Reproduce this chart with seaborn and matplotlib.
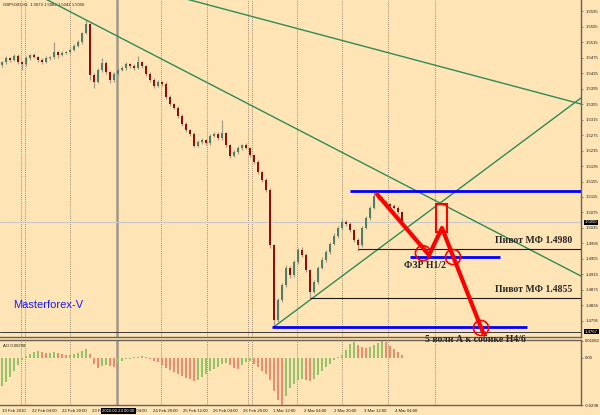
import numpy as np
import pandas as pd
import matplotlib
matplotlib.use("Agg")
import matplotlib.pyplot as plt
import matplotlib.transforms as mtransforms
from matplotlib.patches import Rectangle
import seaborn as sns

# GBPUSD H1, one candle per ~2 hourly bars (bar index, price)
first_open = 1.5455
closes = [1.5463, 1.5474, 1.5469, 1.5479, 1.5463, 1.5458, 1.5474, 1.5481, 1.5476, 1.5469,
          1.5463, 1.5474, 1.5476, 1.5489, 1.5481, 1.5487, 1.5489, 1.5494, 1.5505, 1.5515,
          1.5538, 1.5561, 1.5430, 1.5412, 1.5443, 1.5461, 1.5438, 1.5417, 1.5432, 1.5443,
          1.5448, 1.5458, 1.5453, 1.5448, 1.5463, 1.5453, 1.5432, 1.5417, 1.5401, 1.5412,
          1.5407, 1.5373, 1.5355, 1.5345, 1.5324, 1.5303, 1.5288, 1.5278, 1.5247, 1.5257,
          1.5262, 1.5254, 1.5272, 1.5278, 1.5267, 1.5280, 1.5249, 1.5221, 1.5231, 1.5241,
          1.5249, 1.5241, 1.5223, 1.5205, 1.5180, 1.5159, 1.5133, 1.4991, 1.4798, 1.4849,
          1.4888, 1.4932, 1.4914, 1.4947, 1.4978, 1.4966, 1.4927, 1.4870, 1.4896, 1.4932,
          1.4953, 1.4973, 1.4994, 1.5015, 1.5035, 1.5051, 1.5046, 1.5030, 1.5004, 1.4991,
          1.5035, 1.5061, 1.5087, 1.5118, 1.5113, 1.5102, 1.5097, 1.5092, 1.5087, 1.5076,
          1.5050]
up_wick = [4, 6, 3, 5, 4, 3, 5, 4, 6, 3, 4, 5, 3, 26, 4, 5, 3, 6, 4, 5,
           4, 11, 3, 4, 6, 13, 4, 3, 5, 6, 4, 5, 3, 6, 16, 4, 3, 5, 4, 6,
           3, 4, 5, 3, 6, 4, 5, 3, 4, 6, 5, 3, 6, 4, 5, 34, 4, 3, 5, 6,
           4, 5, 3, 4, 5, 3, 4, 5, 3, 6, 5, 8, 4, 6, 5, 7, 4, 3, 5, 4,
           6, 5, 4, 6, 5, 7, 4, 5, 3, 4, 5, 6, 4, 10, 5, 4, 6, 3, 5, 4, 4]
dn_wick = [5, 4, 6, 3, 5, 15, 4, 5, 3, 6, 4, 3, 5, 4, 6, 3, 4, 5, 3, 4,
           5, 3, 13, 16, 4, 5, 6, 8, 4, 5, 3, 4, 6, 5, 3, 4, 5, 6, 4, 3,
           5, 4, 6, 3, 5, 4, 6, 5, 4, 3, 5, 6, 4, 3, 5, 4, 6, 5, 3, 4,
           5, 3, 6, 4, 5, 6, 4, 8, 18, 6, 5, 4, 7, 5, 4, 6, 5, 15, 4, 5,
           3, 5, 4, 3, 5, 4, 6, 5, 4, 15, 4, 3, 5, 4, 6, 3, 4, 5, 3, 4, 3]
ao = [-0.0178, -0.0153, -0.0121, -0.0083, -0.0045, -0.0013, 0.0013, 0.0025, 0.0038, 0.0045,
      0.0038, 0.0032, 0.0032, 0.0038, 0.0032, 0.0025, 0.0019, 0.0019, 0.0025, 0.0032,
      0.0045, 0.0057, 0.0025, -0.0038, -0.0064, -0.0051, -0.0045, -0.0051, -0.0057, -0.0032,
      -0.0019, -0.0006, -0.0006, 0.0006, 0.0006, 0.0013, 0.0006, -0.0006, -0.0019, -0.0025,
      -0.0045, -0.0064, -0.0076, -0.0089, -0.0102, -0.0114, -0.0127, -0.0134, -0.0146, -0.0140,
      -0.0121, -0.0102, -0.0083, -0.0070, -0.0057, -0.0038, -0.0032, -0.0045, -0.0064, -0.0070,
      -0.0045, -0.0025, -0.0019, -0.0038, -0.0057, -0.0083, -0.0102, -0.0140, -0.0210, -0.0267,
      -0.0298, -0.0242, -0.0191, -0.0165, -0.0140, -0.0134, -0.0140, -0.0146, -0.0134, -0.0108,
      -0.0083, -0.0057, -0.0038, -0.0013, 0.0006, 0.0019, 0.0051, 0.0089, 0.0102, 0.0083,
      0.0070, 0.0064, 0.0070, 0.0083, 0.0095, 0.0108, 0.0102, 0.0076, 0.0057, 0.0038, 0.0019]

# time axis
tick_pos = [0, 7.5, 15, 22.5, 30, 37.75, 45.25, 52.75, 60.25, 67.75, 75.5, 83, 90.5, 98.25]
tick_lab = ["19 Feb 2010", "22 Feb 04:00", "22 Feb 20:00", "23 Feb 12:00", "24 Feb 04:00",
            "24 Feb 20:00", "25 Feb 12:00", "26 Feb 04:00", "26 Feb 20:00", "1 Mar 12:00",
            "2 Mar 04:00", "2 Mar 20:00", "3 Mar 12:00", "4 Mar 04:00"]
day_breaks = [4.75, 5.75, 17, 39.75, 51.25, 61.5, 62.5, 73.75, 85, 96.5, 108.25]
vline_bar = 28.75
price_ticks = [1.4795, 1.4835, 1.4875, 1.4915, 1.4955, 1.4995, 1.5035, 1.5075, 1.5115, 1.5155,
               1.5195, 1.5235, 1.5275, 1.5315, 1.5355, 1.5395, 1.5435, 1.5475, 1.5515, 1.5555, 1.5595]

# drawing objects: (bar, price) anchors; rays run on to the chart edges
trend_lines = [((21, 1.5572), (144.75, 1.4911), True),
               ((47, 1.56234), (144.75, 1.5355), True),
               ((68, 1.4780), (144.75, 1.53705), False)]
blue_levels = [(1.5130, 87, 144.75), (1.4960, 102, 124.5), (1.4780, 67.5, 131.25)]
pivots = [(1.4980, 89), (1.4855, 77)]
red_path_x = [93.5, 106.75, 110, 120.5]
red_path_y = [1.51253, 1.49653, 1.5035, 1.47589]
red_circle_x = [105.25, 112.75, 119.75]
red_circle_y = [1.4970, 1.4960, 1.4777]

BG = "#FFE4B5"
sns.set_style("white", rc={"axes.facecolor": BG, "figure.facecolor": BG})
plt.rcParams["font.family"] = ["Liberation Sans", "DejaVu Sans"]

fig = plt.figure(figsize=(6, 4.15), dpi=100)
ax = fig.add_axes([0, 78 / 415, 581 / 600, 337 / 415])
ax2 = fig.add_axes([0, 10 / 415, 581 / 600, 65 / 415])

df = pd.DataFrame({"bar": np.arange(len(closes)), "close": closes})
df["open"] = [first_open] + closes[:-1]
df["high"] = df[["open", "close"]].max(axis=1) + np.array(up_wick) * 0.0001
df["low"] = df[["open", "close"]].min(axis=1) - np.array(dn_wick) * 0.0001

# separators
for a in (ax, ax2):
    for b in day_breaks:
        a.axvline(b, color="#7a7060", lw=0.6, ls=(0, (1, 1.5)), zorder=1)
    a.axvline(vline_bar, color="#a09888", lw=1.8, zorder=1)

ax.axhline(1.5050, color="#c8c8c8", lw=0.8, zorder=1)
ax.axhline(1.4767, color="#3a3a3a", lw=0.7, zorder=1)

# candles
ax.vlines(df["bar"], df["low"], df["high"], color="#a89c84", lw=0.9, zorder=2)
body_col = np.where(df["close"] >= df["open"], "#4f7f6a", "#8b1010")
ax.bar(df["bar"], (df["close"] - df["open"]).abs().clip(lower=0.00006),
       bottom=df[["open", "close"]].min(axis=1), width=0.55, color=body_col,
       linewidth=0, zorder=3)

# trend lines
for (x0, y0), (x1, y1), ray_left in trend_lines:
    k = (y1 - y0) / (x1 - x0)
    xs = -0.5 if ray_left else x0
    ax.plot([xs, x1], [y0 + k * (xs - x0), y1], color="#2e8b57", lw=1.0, zorder=4)
for p, x0, x1 in blue_levels:
    ax.hlines(p, x0, x1, color="#0000ff", lw=2.0, zorder=5)
for p, x0 in pivots:
    ax.hlines(p, x0, 144.75, color="#1a1a1a", lw=0.8, zorder=4)

ax.plot(red_path_x, red_path_y, color="#ff0000", lw=3, solid_capstyle="butt", zorder=6)
ax.add_patch(Rectangle((108.5, 1.50247), 2.75, 0.00722, fill=False,
                       edgecolor="#ff0000", lw=1.5, zorder=6))
ax.scatter(red_circle_x, red_circle_y, s=118, facecolors="none", edgecolors="#ff0000",
           linewidths=1.2, zorder=7)

serif = ["Liberation Serif", "DejaVu Serif"]
ax.text(142.5, 1.50016, "Пивот МФ 1.4980", family=serif, weight="bold", fontsize=7,
        ha="right", va="center", zorder=8)
ax.text(142.5, 1.4875, "Пивот МФ 1.4855", family=serif, weight="bold", fontsize=7,
        ha="right", va="center", zorder=8)
ax.text(100.5, 1.49395, "ФЗР Н1/2", family=serif, weight="bold", fontsize=7,
        ha="left", va="center", zorder=8)
fig.text(105.75, 1.47485, "5 волн А к собике Н4/6", family=serif, weight="bold",
         fontsize=7, ha="left", va="center", transform=ax.transData)
ax.text(2.75, 1.48363, "Masterforex-V", color="#1a1aff", fontsize=8, ha="left",
        va="center", zorder=8)
ax.text(3 / 581, 1 - 5 / 337, "GBPUSD,H1  1.5073 1.5082 1.5042 1.5050", transform=ax.transAxes,
        fontsize=3.1, color="#202020", va="center")

ax.set_xlim(-0.5, 144.75)
ax.set_ylim(1.47537, 1.56234)
ax.set_xticks([])
ax.yaxis.tick_right()
ax.set_yticks(price_ticks)
ax.set_yticklabels([f"{v:.4f}" for v in price_ticks])

# AO histogram
ao_df = pd.DataFrame({"bar": np.arange(len(ao)), "ao": ao})
ao_df["dir"] = np.where(ao_df["ao"].diff().fillna(1) >= 0, "up", "down")
sns.barplot(data=ao_df, x="bar", y="ao", hue="dir", palette={"up": "#94c36a", "down": "#f08a6c"},
            native_scale=True, dodge=False, width=0.55, saturation=1, errorbar=None,
            legend=False, linewidth=0, ax=ax2, zorder=3)
ax2.set_xlim(-0.5, 144.75)
ax2.set_ylim(-0.0298, 0.01141)
ax2.set_xlabel("")
ax2.set_ylabel("")
ax2.yaxis.tick_right()
ax2.set_yticks([-0.0298, 0.0, 0.01082])
ax2.set_yticklabels(["-0.0298", "0.00", "0.01082"])
ax2.set_xticks(tick_pos)
ax2.set_xticklabels(tick_lab, ha="left")
ax2.text(3 / 581, 1 - 6 / 65, "AO 0.00298", transform=ax2.transAxes, fontsize=3.1,
         color="#202020", va="center")

frame = "#6b6055"
for a in (ax, ax2):
    for s in ("left", "top"):
        a.spines[s].set_visible(False)
    for s in ("right", "bottom"):
        a.spines[s].set_color(frame)
        a.spines[s].set_linewidth(1.0)
    a.tick_params(axis="both", length=1.5, width=0.5, color=frame, labelsize=3.1,
                  labelcolor="#202020", pad=1.5)
ax2.spines["top"].set_visible(True)
ax2.spines["top"].set_color(frame)
ax2.spines["top"].set_linewidth(1.0)

# highlighted labels
for a, val, txt in ((ax, 1.5050, "1.5050"), (ax, 1.4767, "1.4767")):
    tr = mtransforms.blended_transform_factory(a.transAxes, a.transData)
    a.text(1.0 + 4 / 581, val, txt, transform=tr, fontsize=3.1, color="white", va="center",
           ha="left", clip_on=False, zorder=10,
           bbox=dict(boxstyle="square,pad=0.15", fc="black", ec="none"))
fig.text(118.5 / 600, 4 / 415, "2010.02.24 00:00", fontsize=3.1, color="white",
         ha="center", va="center",
         bbox=dict(boxstyle="square,pad=0.25", fc="black", ec="none"))

fig.savefig("out.png", dpi=100, facecolor=BG)
